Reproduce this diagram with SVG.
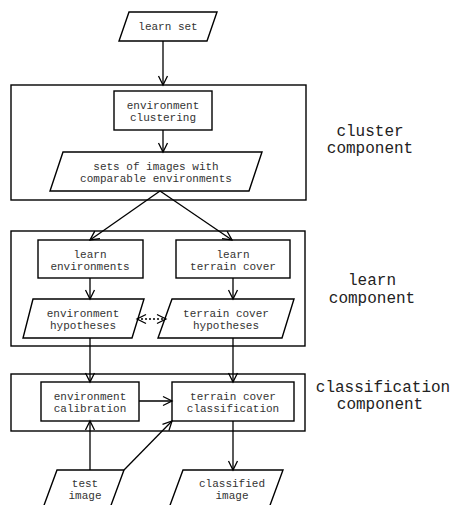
<svg xmlns="http://www.w3.org/2000/svg" width="461" height="505" viewBox="0 0 461 505">
<style>
.shape{fill:#fff;stroke:#000;stroke-width:1.4}
.comp{fill:none;stroke:#000;stroke-width:1.4}
.t{font-family:"Liberation Mono","Courier New",monospace;font-size:11px;fill:#333;text-anchor:middle}
.lbl{font-family:"Liberation Mono","Courier New",monospace;font-size:16px;fill:#222;text-anchor:middle}
.c{fill:none;stroke:#000;stroke-width:1.3}
.d{fill:none;stroke:#000;stroke-width:1.3;stroke-dasharray:2,2}
</style>
<defs>
<marker id="a" markerUnits="userSpaceOnUse" markerWidth="12" markerHeight="12" viewBox="-1 -6 12 12" refX="9" refY="0" orient="auto-start-reverse">
<path d="M0,-4.5 L9,0 L0,4.5" fill="none" stroke="#000" stroke-width="1.3"/>
</marker>
</defs>
<rect width="461" height="505" fill="#fff"/>
<g id="cluster-component">
<rect class="comp" x="11" y="85" width="295" height="115"/>
<text class="lbl" x="370" y="136">cluster</text>
<text class="lbl" x="370" y="153">component</text>
</g>
<g id="learn-component">
<rect class="comp" x="11" y="231" width="294" height="115"/>
<text class="lbl" x="372" y="285">learn</text>
<text class="lbl" x="372" y="303">component</text>
</g>
<g id="classification-component">
<rect class="comp" x="11" y="374" width="294" height="57"/>
<text class="lbl" x="383" y="392">classification</text>
<text class="lbl" x="380" y="409">component</text>
</g>
<g id="learn-set">
<polygon class="shape" points="129,12 217,12 207,41 119,41"/>
<text class="t" x="168" y="30">learn set</text>
</g>
<g id="environment-clustering">
<rect class="shape" x="114" y="91" width="98" height="39"/>
<text class="t" x="163" y="108.5">environment</text>
<text class="t" x="163" y="120.5">clustering</text>
</g>
<g id="sets-of-images">
<polygon class="shape" points="63,152 262,152 249,191 50,191"/>
<text class="t" x="156" y="169.5">sets of images with</text>
<text class="t" x="156" y="181.5">comparable environments</text>
</g>
<g id="learn-environments">
<rect class="shape" x="38" y="240" width="105" height="38"/>
<text class="t" x="90" y="257.5">learn</text>
<text class="t" x="90" y="269.5">environments</text>
</g>
<g id="learn-terrain-cover">
<rect class="shape" x="176" y="240" width="114" height="38"/>
<text class="t" x="233" y="257.5">learn</text>
<text class="t" x="233" y="269.5">terrain cover</text>
</g>
<g id="environment-hypotheses">
<polygon class="shape" points="33,299 144,299 132,338 23,338"/>
<text class="t" x="83" y="316.5">environment</text>
<text class="t" x="83" y="328.5">hypotheses</text>
</g>
<g id="terrain-cover-hypotheses">
<polygon class="shape" points="172,299 294,299 282,338 158,338"/>
<text class="t" x="226" y="316.5">terrain cover</text>
<text class="t" x="226" y="328.5">hypotheses</text>
</g>
<g id="environment-calibration">
<rect class="shape" x="41" y="382" width="98" height="39"/>
<text class="t" x="90" y="399.5">environment</text>
<text class="t" x="90" y="411.5">calibration</text>
</g>
<g id="terrain-cover-classification">
<rect class="shape" x="172" y="382" width="122" height="39"/>
<text class="t" x="233" y="399.5">terrain cover</text>
<text class="t" x="233" y="411.5">classification</text>
</g>
<g id="test-image">
<polygon class="shape" points="57,470 124,470 110,508 43,508"/>
<text class="t" x="85" y="486.5">test</text>
<text class="t" x="85" y="498.5">image</text>
</g>
<g id="classified-image">
<polygon class="shape" points="183,470 283,470 269,508 169,508"/>
<text class="t" x="232" y="486.5">classified</text>
<text class="t" x="232" y="498.5">image</text>
</g>
<g id="connectors">
<line class="c" x1="163" y1="41" x2="163" y2="85" marker-end="url(#a)"/>
<line class="c" x1="163" y1="130" x2="163" y2="152" marker-end="url(#a)"/>
<line class="c" x1="160" y1="191" x2="90" y2="240" marker-end="url(#a)"/>
<line class="c" x1="160" y1="191" x2="232" y2="240" marker-end="url(#a)"/>
<line class="c" x1="90" y1="278" x2="90" y2="299" marker-end="url(#a)"/>
<line class="c" x1="233" y1="278" x2="233" y2="299" marker-end="url(#a)"/>
<line class="d" x1="137" y1="319" x2="166" y2="319" marker-start="url(#a)" marker-end="url(#a)"/>
<line class="c" x1="90" y1="338" x2="90" y2="382" marker-end="url(#a)"/>
<line class="c" x1="233" y1="338" x2="233" y2="382" marker-end="url(#a)"/>
<line class="c" x1="139" y1="401" x2="172" y2="401" marker-end="url(#a)"/>
<line class="c" x1="90" y1="470" x2="90" y2="421" marker-end="url(#a)"/>
<line class="c" x1="124" y1="470" x2="172" y2="421" marker-end="url(#a)"/>
<line class="c" x1="233" y1="421" x2="233" y2="470" marker-end="url(#a)"/>
</g>
</svg>
